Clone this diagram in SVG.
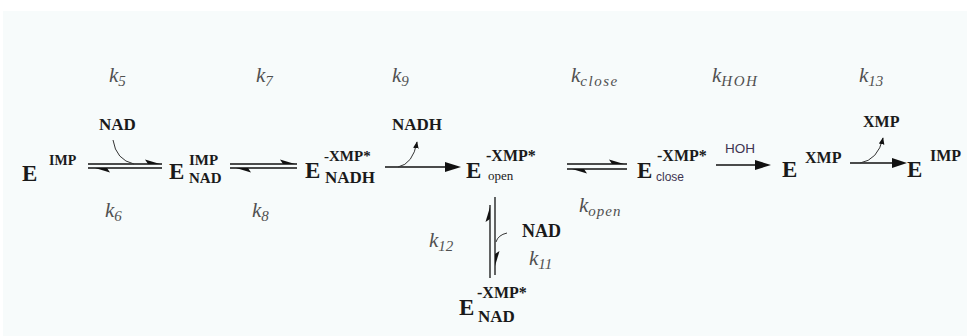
<svg xmlns="http://www.w3.org/2000/svg" width="967" height="336" viewBox="0 0 967 336">
<style>
.E{font-weight:bold;font-size:23px;fill:#1a1a1a}
.s{font-weight:bold;fill:#1a1a1a}
.o{font-size:13px;fill:#1a1a1a}
.k{font-style:italic;font-size:21px;fill:#505050}
.sub{font-size:15px}
.sans{fill:#3e3450}
.ln{stroke:#111;stroke-width:1.3;fill:none}
.cv{stroke:#333;stroke-width:1;fill:none}
.hd{fill:#111}
</style>
<defs>
<marker id="ah" viewBox="0 0 10 10" refX="9" refY="5" markerWidth="7" markerHeight="7" markerUnits="userSpaceOnUse" orient="auto">
<path d="M0,1 L10,5 L0,9 Z" fill="#111"/>
</marker>
</defs>
<rect x="3" y="11" width="964" height="325" fill="#f7fbfb"/>

<g font-family="Liberation Serif, serif">
<g id="k-labels">
<text class="k" x="109" y="82">k<tspan class="sub" dy="4">5</tspan></text>
<text class="k" x="256" y="82">k<tspan class="sub" dy="4">7</tspan></text>
<text class="k" x="392" y="82">k<tspan class="sub" dy="4">9</tspan></text>
<text class="k" x="571" y="82">k<tspan class="sub" dy="4" letter-spacing="1.5">close</tspan></text>
<text class="k" x="712" y="82">k<tspan class="sub" dy="4" letter-spacing="1.5">HOH</tspan></text>
<text class="k" x="859" y="82">k<tspan class="sub" dy="4">13</tspan></text>
<text class="k" x="105" y="217">k<tspan class="sub" dy="4">6</tspan></text>
<text class="k" x="252" y="217">k<tspan class="sub" dy="4">8</tspan></text>
<text class="k" x="579" y="212">k<tspan class="sub" dy="4" letter-spacing="1">open</tspan></text>
<text class="k" x="429" y="247">k<tspan class="sub" dy="4">12</tspan></text>
<text class="k" x="529" y="265">k<tspan class="sub" dy="4">11</tspan></text>
</g>

<g id="n1">
<text class="E" x="22" y="181">E</text>
<text class="s" x="49" y="165" font-size="14">IMP</text>
</g>
<g id="n2">
<text class="E" x="169" y="179">E</text>
<text class="s" x="189" y="165" font-size="15">IMP</text>
<text class="s" x="189" y="183" font-size="15">NAD</text>
</g>
<g id="n3">
<text class="E" x="305" y="178">E</text>
<text class="s" x="324" y="161" font-size="15">-XMP*</text>
<text class="s" x="325" y="183" font-size="17">NADH</text>
</g>
<g id="n4">
<text class="E" x="466" y="178">E</text>
<text class="s" x="486" y="161" font-size="16">-XMP*</text>
<text class="o" x="488" y="180">open</text>
</g>
<g id="n5">
<text class="E" x="637" y="178">E</text>
<text class="s" x="657" y="161" font-size="16">-XMP*</text>
<text class="sans" font-family="Liberation Sans, sans-serif" x="656" y="181" font-size="12">close</text>
</g>
<g id="n6">
<text class="E" x="782" y="177">E</text>
<text class="s" x="805" y="163" font-size="16">XMP</text>
</g>
<g id="n7">
<text class="E" x="907" y="177">E</text>
<text class="s" x="930" y="161" font-size="16">IMP</text>
</g>
<g id="n8">
<text class="E" x="459" y="315">E</text>
<text class="s" x="477" y="298" font-size="16">-XMP*</text>
<text class="s" x="478" y="322" font-size="17">NAD</text>
</g>

<g id="species-labels">
<text class="s" x="99" y="130" font-size="17">NAD</text>
<text class="s" x="392" y="130" font-size="17">NADH</text>
<text class="s" x="863" y="127" font-size="16">XMP</text>
<text class="s" x="522" y="237" font-size="18">NAD</text>
<text class="sans" font-family="Liberation Sans, sans-serif" x="725" y="153" font-size="13.5">HOH</text>
</g>
</g>

<g id="connectors">
<line class="ln" x1="88" y1="164" x2="162" y2="164"/>
<line class="ln" x1="88" y1="168" x2="162" y2="168"/>
<path class="hd" d="M160,164 L145,159.5 L148,164 Z"/>
<path class="hd" d="M95,168 L110,172.5 L107,168 Z"/>
<path class="cv" d="M113,140 Q116,160 134,164"/>
<line class="ln" x1="230" y1="164" x2="297" y2="164"/>
<line class="ln" x1="230" y1="168" x2="297" y2="168"/>
<path class="hd" d="M295,164 L280,159.5 L283,164 Z"/>
<path class="hd" d="M236,168 L251,172.5 L248,168 Z"/>
<line class="ln" x1="385" y1="167" x2="448" y2="167"/>
<path class="hd" d="M461,167 L445,162 L445,172 Z"/>
<path class="cv" d="M398,167 Q413,164 417,142" marker-end="url(#ah)"/>
<line class="ln" x1="567" y1="164" x2="627" y2="164"/>
<line class="ln" x1="567" y1="169" x2="627" y2="169"/>
<path class="hd" d="M624,164 L609,159.5 L612,164 Z"/>
<path class="hd" d="M572,169 L587,173.5 L584,169 Z"/>
<line class="ln" x1="716" y1="165" x2="758" y2="165"/>
<path class="hd" d="M771,165 L755,160 L755,170 Z"/>
<line class="ln" x1="850" y1="163" x2="895" y2="163"/>
<path class="hd" d="M907,163 L892,158 L892,168 Z"/>
<path class="cv" d="M860,163 Q878,160 883,138" marker-end="url(#ah)"/>
<line class="ln" x1="490" y1="205" x2="490" y2="278"/>
<line class="ln" x1="495" y1="197" x2="495" y2="275"/>
<path class="hd" d="M490,207 L485.5,222 L490,219 Z"/>
<path class="hd" d="M495,266 L499.5,251 L495,254 Z"/>
<path class="cv" d="M507,233 Q498,235 496,242"/>
</g>
</svg>
